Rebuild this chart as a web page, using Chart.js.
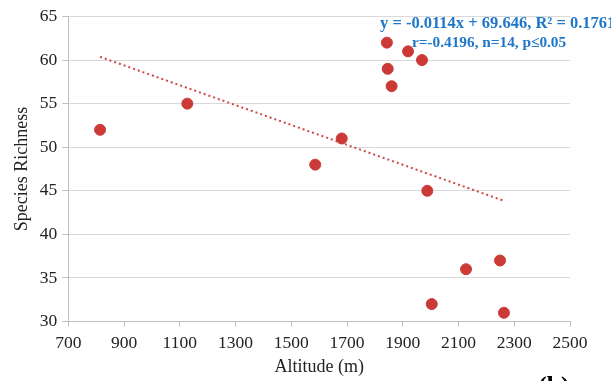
<!DOCTYPE html>
<html>
<head>
<meta charset="utf-8">
<script src="https://cdn.jsdelivr.net/npm/chart.js@4"></script>
<style>
  html, body { margin: 0; padding: 0; background: #fff; }
  canvas { display: block; }
</style>
</head>
<body>
<canvas id="richnessChart" width="611" height="381"></canvas>
<script>
// altitude (m) and species richness per site
const altitude = [814, 1127, 1586, 1681, 1843, 1919, 1969, 1846, 1860, 1988, 2127, 2249, 2004, 2263];
const richness = [52, 55, 48, 51, 62, 61, 60, 59, 57, 45, 36, 37, 32, 31];

// linear trend end points
const trendX = [814, 2263];
const trendY = [60.37, 43.85];

const xTicks = [700, 900, 1100, 1300, 1500, 1700, 1900, 2100, 2300, 2500];
const yTicks = [30, 35, 40, 45, 50, 55, 60, 65];

const eqLine1 = 'y = -0.0114x + 69.646, R\u00B2 = 0.1761';
const eqLine2 = 'r=-0.4196, n=14, p\u22640.05';

const serif = "'Liberation Serif', 'Times New Roman', serif";

const annotations = {
    id: 'annotations',
    afterDraw(chart) {
        const ctx = chart.ctx;
        ctx.save();
        ctx.fillStyle = '#1f77c9';
        ctx.textBaseline = 'alphabetic';
        ctx.textAlign = 'left';
        ctx.font = 'bold 16.5px ' + serif;
        ctx.fillText(eqLine1, 380, 28);
        ctx.font = 'bold 15.3px ' + serif;
        ctx.fillText(eqLine2, 412, 46.5);
        ctx.fillStyle = '#000';
        ctx.font = 'bold 26px ' + serif;
        ctx.textBaseline = 'top';
        ctx.fillText('(b)', 538, 374);
        ctx.restore();
    }
};

const ctx = document.getElementById('richnessChart').getContext('2d');
new Chart(ctx, {
    type: 'scatter',
    data: {
        datasets: [{
            label: 'Species Richness',
            data: altitude.map((a, i) => ({ x: a, y: richness[i] })),
            backgroundColor: '#cb3a36',
            borderColor: '#cb3a36',
            pointRadius: 5.5,
            pointHoverRadius: 5.5,
            order: 1
        }, {
            type: 'line',
            label: 'Trend',
            data: trendX.map((a, i) => ({ x: a, y: trendY[i] })),
            borderColor: '#d04545',
            borderWidth: 2,
            borderDash: [2, 3],
            pointRadius: 0,
            fill: false,
            order: 2
        }]
    },
    options: {
        responsive: false,
        animation: false,
        layout: { padding: { left: 0, right: 41, top: 16.5, bottom: 0 } },
        plugins: {
            legend: { display: false },
            tooltip: { enabled: false }
        },
        scales: {
            x: {
                type: 'linear',
                min: 700,
                max: 2500,
                afterBuildTicks: s => { s.ticks = xTicks.map(v => ({ value: v })); },
                afterFit: s => { s.height = 59.5; },
                ticks: {
                    color: '#222',
                    font: { family: serif, size: 17.5 },
                    padding: 6,
                    maxRotation: 0,
                    callback: v => String(v)
                },
                grid: { drawOnChartArea: false, drawTicks: true, tickLength: 5, color: '#bfbfbf' },
                border: { color: '#bfbfbf', width: 1 },
                title: {
                    display: true,
                    text: 'Altitude (m)',
                    color: '#222',
                    font: { family: serif, size: 18 },
                    padding: { top: 0, bottom: 3 }
                }
            },
            y: {
                min: 30,
                max: 65,
                afterBuildTicks: s => { s.ticks = yTicks.map(v => ({ value: v })); },
                afterFit: s => { s.width = 68.3; },
                ticks: { color: '#222', font: { family: serif, size: 17.5 }, padding: 5, callback: v => String(v) },
                grid: { color: '#d9d9d9', tickColor: '#bfbfbf', tickLength: 6, lineWidth: 1 },
                border: { color: '#bfbfbf', width: 1 },
                title: {
                    display: true,
                    text: 'Species Richness',
                    color: '#222',
                    font: { family: serif, size: 18 },
                    padding: { top: 11, bottom: 0 }
                }
            }
        }
    },
    plugins: [annotations]
});
</script>
</body>
</html>
